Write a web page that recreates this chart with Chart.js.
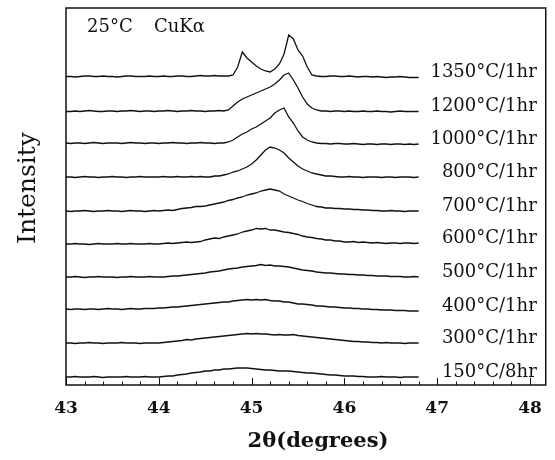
<!DOCTYPE html>
<html>
    <head>
        <title>XRD patterns</title>
        <script src="https://cdn.jsdelivr.net/npm/chart.js@4.4.1/dist/chart.umd.min.js"></script>
        <style>
            body { margin: 0; background: #fff; }
        </style>
    </head>
    <body>
        <canvas id="chart" width="555" height="460"></canvas>

        <script>
            // 2theta sample positions (degrees)
            const twoTheta = [
                43.00, 43.05, 43.10, 43.15, 43.20, 43.25, 43.30, 43.35, 43.40, 43.45,
                43.50, 43.55, 43.60, 43.65, 43.70, 43.75, 43.80, 43.85, 43.90, 43.95,
                44.00, 44.05, 44.10, 44.15, 44.20, 44.25, 44.30, 44.35, 44.40, 44.45,
                44.50, 44.55, 44.60, 44.65, 44.70, 44.75, 44.80, 44.85, 44.90, 44.95,
                45.00, 45.05, 45.10, 45.15, 45.20, 45.25, 45.30, 45.35, 45.40, 45.45,
                45.50, 45.55, 45.60, 45.65, 45.70, 45.75, 45.80, 45.85, 45.90, 45.95,
                46.00, 46.05, 46.10, 46.15, 46.20, 46.25, 46.30, 46.35, 46.40, 46.45,
                46.50, 46.55, 46.60, 46.65, 46.70, 46.75, 46.80,
            ]

            // intensity traces, already offset (arbitrary units)
            const s1350 = [
                308.5, 308.5, 308, 308.5, 309, 309, 308.5, 308.5, 309, 308.5,
                308.5, 308, 308.5, 309, 309, 308.5, 308.5, 308.5, 309, 308.5,
                308.5, 309, 308.5, 308.5, 309, 309, 308.5, 308.5, 309, 309.5,
                309, 309, 309.5, 309,
                309, 309, 310, 318, 333, 327, 323, 319, 316, 314, 313, 316, 321, 331, 350, 346, 335, 329, 318, 310, 309,
                308.5, 308.5, 309, 309, 308.5, 308.5, 309, 308.5, 308, 308.5, 308.5, 308, 308.5, 308, 307.5, 308, 308, 308.5, 308, 307.5, 307.5, 307.5,
            ]
            const s1200 = [
                273.5, 273.5, 274, 273.5, 274, 274.5, 274, 273.5, 273.5, 274,
                274, 273.5, 274, 274, 274.5, 274, 273.5, 274, 274, 273.5,
                274, 274, 274.5, 274, 273.5, 274, 274, 274.5, 274, 274,
                273.5, 274, 274, 274.5,
                274, 275, 279, 283, 286, 288, 290, 292, 294, 296, 298, 301, 305, 310, 312, 305, 297, 288, 281, 277, 275, 274,
                274, 273.5, 274, 274, 273.5, 274, 273.5, 273.5, 274, 273.5, 273.5, 274, 273.5, 273.5, 273, 273.5, 274, 273.5, 273.5, 273.5, 273.5,
            ]
            const s1000 = [
                242, 241.5, 242, 242, 241.5, 242, 242.5, 242, 241.5, 242,
                242, 242, 241.5, 242, 242.5, 242, 242, 241.5, 242, 242,
                241.5, 242, 242, 242.5, 242, 242, 241.5, 242, 242, 242.5,
                242, 242, 241.5, 242,
                242, 243, 245, 248, 251, 253, 256, 258, 261, 264, 267, 272, 275, 277, 268, 262, 254, 248, 245, 243, 242, 241.5,
                241.5, 241, 241.5, 241.5, 241, 241, 241.5, 241, 240.5, 241, 241, 240.5, 241, 241, 240.5, 241, 241, 240.5, 241, 240.5, 241,
            ]
            const s800 = [
                208, 208, 207.5, 208, 208.5, 208, 208, 207.5, 208, 208,
                208.5, 208, 208, 207.5, 208, 208, 208.5, 208, 208, 208,
                208, 208.5, 208, 208, 208.5, 208, 208, 208.5, 208, 208.5,
                208, 208, 209, 209, 210, 211, 213, 214, 216, 218, 221, 225, 230, 235, 238, 237, 235, 232, 227, 223,
                219, 216, 214, 212, 211, 210, 209, 209, 208.5,
                208, 208, 208.5, 208, 208, 207.5, 208, 208, 208, 207.5, 208, 208, 207.5, 208, 208, 208, 207.5, 208,
            ]
            const s700 = [
                174, 173.5, 174, 174, 174.5, 174, 173.5, 174, 174, 174.5,
                174, 174, 173.5, 174, 174.5, 174, 174, 173.5, 174, 174.5,
                174, 174.5, 175, 174.5, 175.5, 176.5, 177, 177.5, 178.5, 178.5,
                179, 180, 181, 182, 183, 184.5, 185.5, 187, 188, 190,
                191, 192, 194, 195, 196, 195, 194, 191, 189, 187,
                185, 183.5, 181.5, 180, 178.5, 178, 177, 177, 176.5, 176.5,
                176, 176, 175.5, 175.5, 175, 175, 174.5, 174.5, 174, 174,
                174.5, 174, 174, 173.5, 174, 174, 174,
            ]
            const s600 = [
                141, 141, 141.5, 141, 141, 140.5, 141, 141.5, 141, 141,
                141, 141.5, 141, 141, 141.5, 141, 141, 141, 141.5, 141,
                141, 141.5, 142, 141.5, 142, 142.5, 143, 142.5, 143, 143.5,
                145, 146, 147, 146.5, 148, 149, 150, 151, 153, 154,
                155, 156.5, 156, 156.5, 155, 155, 154, 153, 152.5, 151.5,
                150.5, 149, 148, 147.5, 146.5, 146, 145, 145, 144, 144,
                143, 143, 143.5, 142.5, 143, 142.5, 142, 142.5, 142, 141.5,
                142, 142, 141.5, 142, 142, 141.5, 142,
            ]
            const s500 = [
                108, 108, 108.5, 108, 107.5, 108, 108, 108.5, 108, 108,
                108, 107.5, 108, 108, 108.5, 108, 108, 108, 108.5, 108,
                108, 108, 108.5, 109, 109, 109.5, 110, 110.5, 111, 111.5,
                112, 113, 113.5, 114, 115, 116, 116.5, 117, 118, 118.5,
                119, 119.5, 120.5, 119.5, 120, 119, 119, 118.5, 118, 117,
                116, 115, 114.5, 114, 113, 112.5, 112, 112, 111.5, 111,
                111, 110.5, 110.5, 110, 110, 109.5, 109.5, 109, 109, 109,
                108.5, 108.5, 108.5, 108, 108, 108.5, 108,
            ]
            const s400 = [
                76, 75.5, 76, 76, 75.5, 76, 76, 75.5, 76, 76.5,
                76, 76, 75.5, 76, 76.5, 76, 76, 76.5, 76.5, 76.5,
                77, 77, 77.5, 78, 78, 78.5, 79, 79.5, 80, 80.5,
                81, 81.5, 82, 82.5, 83, 83, 84, 84.5, 85, 85.5,
                85, 85.5, 85, 85.5, 84.5, 84, 84, 83, 83, 82,
                81, 81, 80.5, 80, 79, 79, 78.5, 78, 78, 77.5,
                77, 77, 76.5, 76.5, 76, 76, 75.5, 75.5, 75, 75,
                75, 74.5, 74.5, 74.5, 74, 74, 74,
            ]
            const s300 = [
                42, 42, 41.5, 42, 42, 42.5, 42, 42, 41.5, 42,
                42, 42, 42.5, 42, 42, 42, 41.5, 42, 42, 42,
                42, 42.5, 43, 43.5, 44, 44.5, 45.5, 45, 46, 46.5,
                47, 47.5, 48, 48.5, 49, 49.5, 50, 50.5, 51, 51.5,
                51, 51.5, 51, 51, 50.5, 50, 50.5, 50, 50, 50.5,
                49.5, 49, 48.5, 48, 47.5, 47, 46.5, 46, 45.5, 45,
                44.5, 44, 43.5, 43.5, 43, 43, 42.5, 42.5, 42, 42.5,
                42, 42, 42, 41.5, 42, 42, 42,
            ]
            const s150 = [
                8, 8, 8.5, 8, 8, 8, 8.5, 8, 7.5, 8,
                8, 8, 8, 8.5, 8, 8, 8, 8.5, 8, 8,
                8, 8.5, 9, 9, 10, 10.5, 11, 12, 12.5, 13,
                14, 14, 15, 15, 16, 16, 16.5, 17, 17, 17,
                16.5, 16, 15.5, 15, 15, 14.5, 14, 14, 14, 13.5,
                13, 12.5, 12, 12, 11.5, 11, 10.5, 10, 10, 9.5,
                9, 9, 9, 8.5, 8.5, 8, 8, 8, 8.5, 8,
                8, 8, 7.5, 8, 8, 8, 8,
            ]

            const seriesLabels = [
                '1350°C/1hr', '1200°C/1hr', '1000°C/1hr', '800°C/1hr', '700°C/1hr',
                '600°C/1hr', '500°C/1hr', '400°C/1hr', '300°C/1hr', '150°C/8hr',
            ]
            const series = [s1350, s1200, s1000, s800, s700, s600, s500, s400, s300, s150]
            const xTickValues = [43, 44, 45, 46, 47, 48]

            const serif = '"DejaVu Serif", "Liberation Serif", serif'

            // box, inward ticks and all the text
            const decor = {
                id: 'decor',
                afterDatasetsDraw(chart) {
                    const { ctx, chartArea: a } = chart
                    const xs = chart.scales.x
                    ctx.save()
                    ctx.strokeStyle = '#111'
                    ctx.lineWidth = 1.5
                    ctx.strokeRect(a.left, a.top, a.right - a.left, a.bottom - a.top)

                    ctx.lineWidth = 1
                    for (let i = 0; i <= 25; i++) {
                        const px = Math.round(xs.getPixelForValue(43 + i * 0.2)) + 0.5
                        const len = i % 5 === 0 ? 7 : 3.5
                        ctx.beginPath()
                        ctx.moveTo(px, a.bottom)
                        ctx.lineTo(px, a.bottom - len)
                        ctx.stroke()
                    }

                    ctx.fillStyle = '#111'
                    ctx.font = '18px ' + serif
                    ctx.textAlign = 'right'
                    ctx.textBaseline = 'middle'
                    chart.data.datasets.forEach((ds, k) => {
                        const meta = chart.getDatasetMeta(k)
                        const pt = meta.data[meta.data.length - 1]
                        ctx.fillText(ds.label, a.right - 9, pt.y - 5)
                    })

                    ctx.textAlign = 'left'
                    ctx.fillText('25°C', a.left + 21, a.top + 19)
                    ctx.fillText('CuKα', a.left + 88, a.top + 19)

                    ctx.textAlign = 'center'
                    ctx.font = 'bold 21px ' + serif
                    ctx.fillText('2θ(degrees)', 318, 442)

                    ctx.translate(28, 188)
                    ctx.rotate(-Math.PI / 2)
                    ctx.font = '25px ' + serif
                    ctx.fillText('Intensity', 0, 0)
                    ctx.restore()
                },
            }

            const chart = new Chart('chart', {
                type: 'line',
                data: {
                    datasets: series.map((s, k) => ({
                        label: seriesLabels[k],
                        data: s.map((v, i) => ({ x: twoTheta[i], y: v })),
                        borderColor: '#111',
                        borderWidth: 1.3,
                        pointRadius: 0,
                        tension: 0,
                        fill: false,
                    })),
                },
                options: {
                    responsive: false,
                    animation: false,
                    layout: { padding: { left: 66, right: 6, top: 8, bottom: 0 } },
                    plugins: {
                        legend: { display: false },
                        tooltip: { enabled: false },
                    },
                    scales: {
                        x: {
                            type: 'linear',
                            min: 43,
                            max: 48.17,
                            afterFit: (scale) => { scale.height = 75 },
                            afterBuildTicks: (scale) => {
                                scale.ticks = xTickValues.map((v) => ({ value: v }))
                            },
                            grid: { display: false, drawTicks: false },
                            border: { display: false },
                            ticks: {
                                padding: 13,
                                color: '#111',
                                font: { family: serif, size: 17, weight: 'bold' },
                                callback: (v) => String(v),
                            },
                        },
                        y: {
                            display: false,
                            min: 0,
                            max: 377,
                        },
                    },
                },
                plugins: [decor],
            })
        </script>
    </body>
</html>
